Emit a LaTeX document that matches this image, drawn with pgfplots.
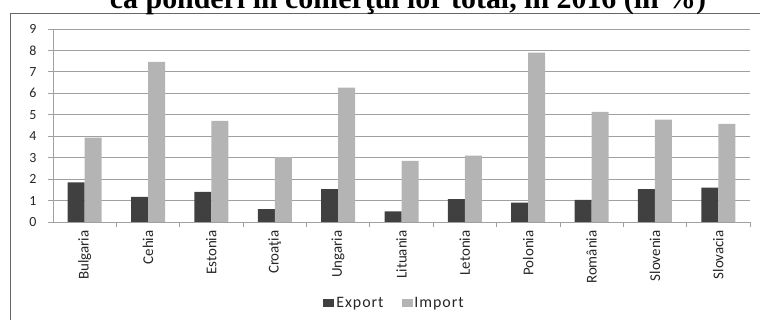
\documentclass[border=0pt]{standalone}
\usepackage{pgfplots}
\pgfplotsset{compat=1.18}
\usepackage{fontspec}
\setmainfont{Carlito}
\newfontfamily\titlefont{Liberation Serif}
\newfontfamily\legfont[LetterSpace=6]{Carlito}
\definecolor{expc}{HTML}{404040}
\definecolor{impc}{HTML}{B4B4B4}
\definecolor{gridc}{HTML}{A0A0A0}
\begin{document}
\begin{tikzpicture}
\begin{axis}[
  at={(53bp,98bp)}, anchor=south west, scale only axis,
  width=697bp, height=193bp,
  ymin=0, ymax=9, ytick={0,...,9},
  xmin=-0.5, xmax=10.5,
  ybar=0pt, bar width=17bp,
  xtick={0,...,10},
  xticklabels={Bulgaria,Cehia,Estonia,Croaţia,Ungaria,Lituania,Letonia,Polonia,România,Slovenia,Slovacia},
  minor xtick={0.5,1.5,...,10.5},
  axis x line*=bottom, axis y line*=left,
  axis line style={gridc,line width=0.8bp},
  tick align=outside,
  major tick length=5bp, minor tick length=5bp,
  x tick style={draw=none},
  minor x tick style={draw=gridc,line width=0.8bp},
  y tick style={draw=gridc,line width=0.8bp},
  ymajorgrids, major grid style={gridc,line width=0.8bp},
  /pgf/number format/assume math mode=true,
  tick label style={text=black!85},
  xticklabel style={rotate=90, anchor=east, font=\fontsize{15}{17}\selectfont},
  yticklabel style={xshift=-8bp, font=\fontsize{14}{16}\selectfont},
  legend style={at={(0.49,-0.42)}, anchor=center, draw=none, fill=none,
    legend columns=2, font=\legfont\fontsize{16}{18}\selectfont, text=black!85,
    /tikz/every even column/.append style={column sep=16bp}},
  legend image code/.code={\fill[#1,draw=none] (0bp,-3.5bp) rectangle (11bp,4.5bp);},
]
\addplot[fill=expc, draw=none] coordinates {(0,1.85) (1,1.17) (2,1.40) (3,0.60) (4,1.53) (5,0.50) (6,1.07) (7,0.90) (8,1.03) (9,1.53) (10,1.60)};
\addplot[fill=impc, draw=none] coordinates {(0,3.93) (1,7.47) (2,4.72) (3,3.03) (4,6.27) (5,2.85) (6,3.10) (7,7.90) (8,5.13) (9,4.77) (10,4.58)};
\legend{Export,Import}
\end{axis}
\draw[gray!80!black, line width=0.8bp] (10bp,-10bp) -- (10bp,307bp) -- (770bp,307bp);
\node[anchor=base, font=\titlefont\bfseries\fontsize{30}{34}\selectfont] at (408bp,311bp) {ca ponderi în comerţul lor total, în 2016 (în \%)};
\pgfresetboundingbox
\useasboundingbox (0,0) rectangle (760bp,320bp);
\end{tikzpicture}
\end{document}
